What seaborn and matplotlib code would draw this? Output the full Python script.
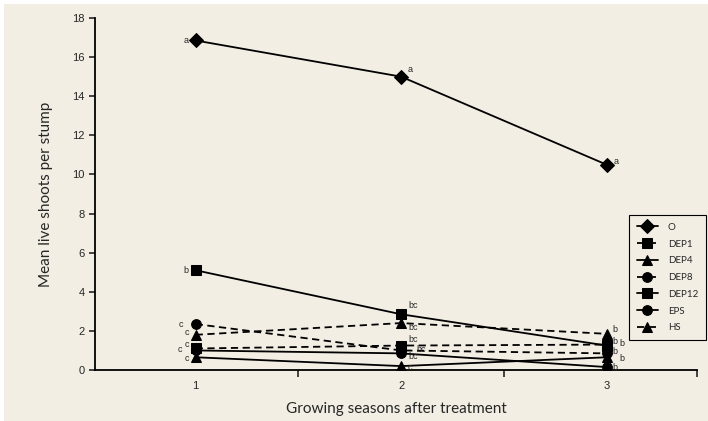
import matplotlib
matplotlib.use("Agg")
import matplotlib.pyplot as plt
import seaborn as sns
import pandas as pd
from matplotlib.patches import Rectangle

seasons = [1, 2, 3]
treatments = ["O", "DEP1", "DEP4", "DEP8", "DEP12", "EPS", "HS"]
O = [16.85, 15.0, 10.5]
DEP1 = [1.1, 1.25, 1.3]
DEP4 = [0.65, 0.2, 0.65]
DEP8 = [2.35, 1.0, 0.85]
DEP12 = [5.1, 2.85, 1.25]
EPS = [1.0, 0.85, 0.15]
HS = [1.8, 2.4, 1.85]
letters = {
    "O": ["a", "a", "a"],
    "DEP1": ["c", "bc", "b"],
    "DEP4": ["c", "c", "b"],
    "DEP8": ["c", "bc", "b"],
    "DEP12": ["b", "bc", "b"],
    "EPS": ["c", "bc", "b"],
    "HS": ["c", "bc", "b"],
}
values = {"O": O, "DEP1": DEP1, "DEP4": DEP4, "DEP8": DEP8,
          "DEP12": DEP12, "EPS": EPS, "HS": HS}

# label offsets (dx, dy) in points from each marker, to keep stacked letters readable
label_offsets = {
    "O": [(-5, 0), (5, 5), (5, 2)],
    "DEP1": [(-5, 3), (5, 4), (9, 1)],
    "DEP4": [(-5, -1), (5, -1), (9, -1)],
    "DEP8": [(-9, 0), (11, 1), (4, 1.5)],
    "DEP12": [(-5, 0), (5, 6), (4, 3)],
    "EPS": [(-10, 0.5), (5, -2.5), (4, 0)],
    "HS": [(-5, 2), (5, -3), (4, 3)],
}

rows = []
for t in treatments:
    for s, v in zip(seasons, values[t]):
        rows.append({"season": s, "value": v, "treatment": t})
df = pd.DataFrame(rows)

bg = "#F3EEE3"
sns.set_theme(style="ticks")
plt.rcParams["font.family"] = ["Liberation Sans", "DejaVu Sans"]

fig = plt.figure(figsize=(7.08, 4.21), dpi=100, facecolor=bg)
fig.patches.append(Rectangle((0, 417 / 421), 1, 4 / 421, transform=fig.transFigure,
                             facecolor="white", edgecolor="none"))
fig.patches.append(Rectangle((0, 0), 4 / 708, 1, transform=fig.transFigure,
                             facecolor="white", edgecolor="none"))
ax = fig.add_axes([95 / 708, 1 - 370 / 421, (697 - 95) / 708, (370 - 18) / 421])
ax.set_facecolor(bg)
ax.patch.set_alpha(0)

markers = {"O": "D", "DEP1": "s", "DEP4": "^", "DEP8": "o",
           "DEP12": "s", "EPS": "o", "HS": "^"}
dashes = {"O": "", "DEP1": (4, 2.5), "DEP4": "", "DEP8": (4, 2.5),
          "DEP12": "", "EPS": "", "HS": (4, 2.5)}
palette = {t: "black" for t in treatments}

sns.lineplot(data=df, x="season", y="value", hue="treatment", style="treatment",
             hue_order=treatments, style_order=treatments,
             markers=markers, dashes=dashes, palette=palette,
             markersize=7, markeredgecolor="black", linewidth=1.3, ax=ax)

for t in treatments:
    for i, (s, v) in enumerate(zip(seasons, values[t])):
        dx, dy = label_offsets[t][i]
        ax.annotate(letters[t][i], (s, v), xytext=(dx, dy), textcoords="offset points",
                    ha="right" if i == 0 else "left", va="center", fontsize=6.5)

ax.set_xlim(0.51, 3.44)
ax.set_ylim(0, 18)
ax.set_yticks(range(0, 19, 2))
ax.set_xticks(seasons)
ax.set_xticks([1.5, 2.5, 3.44], minor=True)
ax.tick_params(axis="x", which="major", length=0, labelsize=8, pad=8)
ax.tick_params(axis="x", which="minor", length=5, width=1.2, direction="out")
ax.tick_params(axis="y", length=4, width=1.2, labelsize=8)
for sp in ["top", "right"]:
    ax.spines[sp].set_visible(False)
for sp in ["left", "bottom"]:
    ax.spines[sp].set_linewidth(1.3)
    ax.spines[sp].set_color("black")

ax.set_xlabel("Growing seasons after treatment", family=["Lato", "DejaVu Sans"],
              fontsize=11, labelpad=8)
ax.set_ylabel("Mean live shoots per stump", family=["Lato", "DejaVu Sans"],
              fontsize=11, labelpad=14)

handles, labels = ax.get_legend_handles_labels()
leg = ax.legend(handles, labels, loc="upper left", bbox_to_anchor=(629 / 708, 1 - 215 / 421),
                bbox_transform=fig.transFigure, frameon=True, fancybox=False,
                facecolor=bg, edgecolor="black", framealpha=1, borderaxespad=0,
                handlelength=2.2, labelspacing=0.8, borderpad=0.8, handletextpad=1.0,
                prop={"family": ["Lato", "DejaVu Sans"], "size": 7})
leg.get_frame().set_linewidth(0.8)

fig.savefig("out.png", dpi=100, facecolor=bg)
